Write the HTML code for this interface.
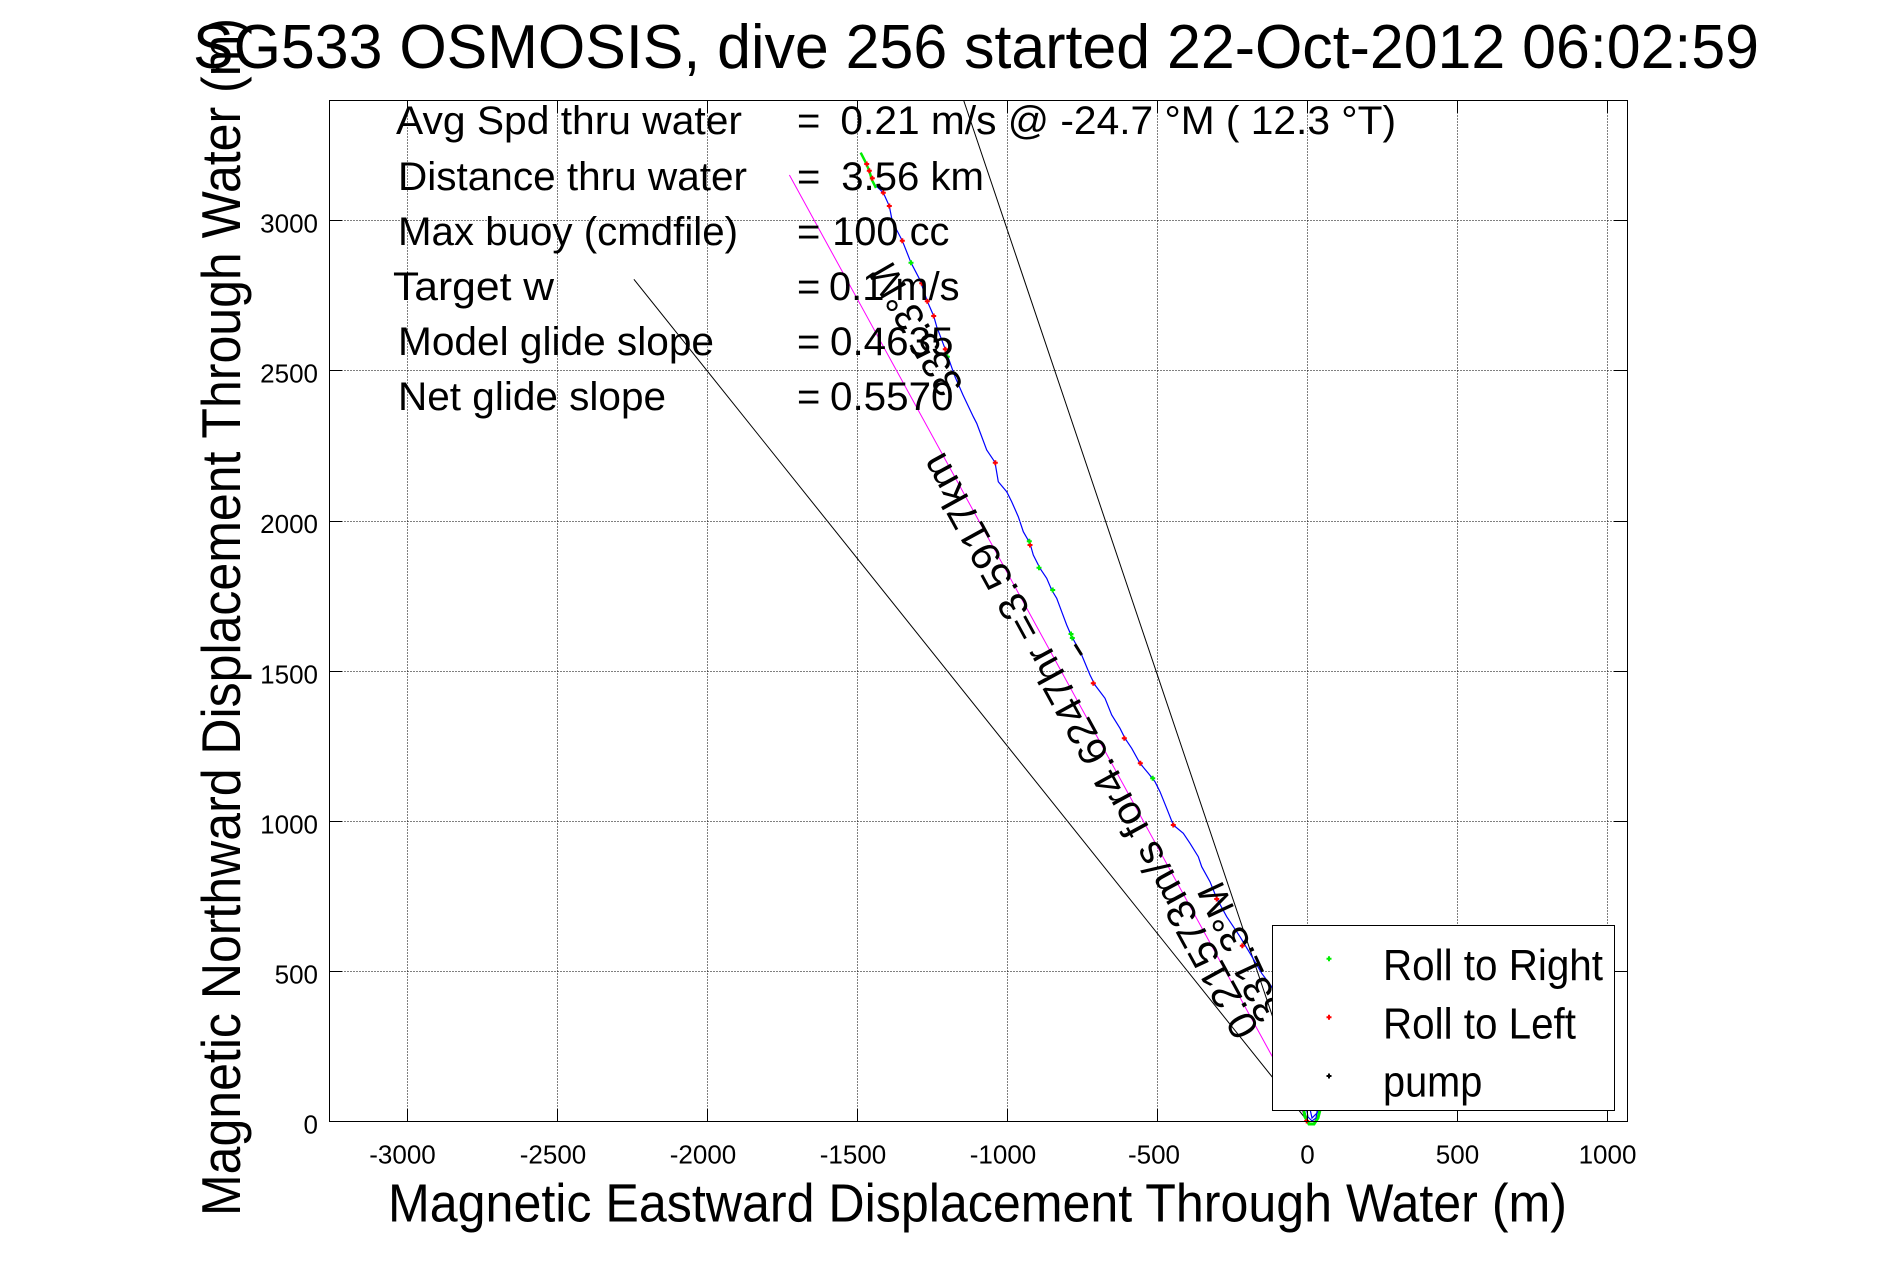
<!DOCTYPE html>
<html>
<head>
<meta charset="utf-8">
<style>
html,body{margin:0;padding:0;background:#fff;}
svg{display:block;}
text{font-family:"Liberation Sans",Arial,sans-serif;fill:#000;}
</style>
</head>
<body>
<svg width="1891" height="1262" viewBox="0 0 1891 1262" xmlns="http://www.w3.org/2000/svg">
<rect x="0" y="0" width="1891" height="1262" fill="#fff"/>

<!-- grid -->
<g stroke="#000" stroke-width="1" stroke-dasharray="1,2" fill="none">
  <line x1="407.5" y1="100.5" x2="407.5" y2="1121.5"/>
  <line x1="557.5" y1="100.5" x2="557.5" y2="1121.5"/>
  <line x1="707.5" y1="100.5" x2="707.5" y2="1121.5"/>
  <line x1="857.5" y1="100.5" x2="857.5" y2="1121.5"/>
  <line x1="1007.5" y1="100.5" x2="1007.5" y2="1121.5"/>
  <line x1="1157.5" y1="100.5" x2="1157.5" y2="1121.5"/>
  <line x1="1307.5" y1="100.5" x2="1307.5" y2="1121.5"/>
  <line x1="1457.5" y1="100.5" x2="1457.5" y2="1121.5"/>
  <line x1="1607.5" y1="100.5" x2="1607.5" y2="1121.5"/>
  <line x1="329.5" y1="971.5" x2="1627.5" y2="971.5"/>
  <line x1="329.5" y1="821.5" x2="1627.5" y2="821.5"/>
  <line x1="329.5" y1="671.5" x2="1627.5" y2="671.5"/>
  <line x1="329.5" y1="521.5" x2="1627.5" y2="521.5"/>
  <line x1="329.5" y1="370.5" x2="1627.5" y2="370.5"/>
  <line x1="329.5" y1="220.5" x2="1627.5" y2="220.5"/>
</g>

<!-- reference lines -->
<g fill="none" stroke-width="1">
  <line x1="963.7" y1="100.5" x2="1308" y2="1121.7" stroke="#000"/>
  <line x1="633.9" y1="279.3" x2="1308" y2="1121.7" stroke="#000"/>
  <line x1="789.4" y1="175" x2="1308" y2="1121.7" stroke="#ff00ff"/>
</g>

<!-- track -->
<polyline fill="none" stroke="#0000ff" stroke-width="1.2" points="860.7,152.7 866,163 870,172 873.3,183.3 883.3,192.7 889.3,206 891.7,218.3 896.7,230 902.3,240.7 911,262.7 920,280 927.3,301.3 933.7,316 936.7,326.7 945.3,349.3 955,376.7 963,395 973.3,416.7 976.7,423.3 986.7,450 995,462.3 998.3,481.7 1006.7,491.7 1011.7,501.7 1018.3,516.7 1023.3,531.7 1030,543.3 1033.3,555 1040,568.3 1046.7,578.3 1051.7,590 1056.7,598.3 1061.7,611.7 1066.7,625 1071,635 1081.7,655 1090,675 1095,685 1105,698.3 1111.7,715 1120,728.3 1125,738.3 1131.7,748.3 1140,763.3 1148.3,773.3 1155,781.7 1160,791.7 1166.7,808.3 1173.3,825 1183.3,833.3 1190,843.3 1198.3,856.7 1201.7,866.7 1210,881.7 1216.7,898.3 1226.7,916.7 1240,936.7 1250,953.3 1261.7,973.3 1271.7,986.7 1285,1010 1300,1060 1308,1100 1312,1118 1318,1112 1320,1104"/>
<polyline fill="none" stroke="#00ee00" stroke-width="2.5" points="860.7,152.7 865,161 869,170 872,180 876,188"/>
<polyline fill="none" stroke="#00ee00" stroke-width="3" points="1303,1106 1305,1117 1309,1124 1314,1124 1318,1118 1321,1106"/>
<polyline fill="none" stroke="#0000ff" stroke-width="1.2" points="1306,1106 1308,1117 1312,1121 1316,1118 1318,1106"/>
<line x1="1075" y1="644.3" x2="1081.7" y2="655" stroke="#000" stroke-width="3"/>

<!-- red markers -->
<g stroke="#ff0000" stroke-width="2" fill="none">
  <path d="M864.2 164h5M866.7 161.5v5"/>
  <path d="M866.8 170.7h5M869.3 168.2v5"/>
  <path d="M869.8 178.3h5M872.3 175.8v5"/>
  <path d="M880.8 192.7h5M883.3 190.2v5"/>
  <path d="M886.8 206h5M889.3 203.5v5"/>
  <path d="M899.8 240.7h5M902.3 238.2v5"/>
  <path d="M919.2 283.3h5M921.7 280.8v5"/>
  <path d="M924.8 301.3h5M927.3 298.8v5"/>
  <path d="M931.2 316h5M933.7 313.5v5"/>
  <path d="M942.8 349.3h5M945.3 346.8v5"/>
  <path d="M992.8 462.7h5M995.3 460.2v5"/>
  <path d="M1027.5 545h5M1030 542.5v5"/>
  <path d="M1090.8 683.3h5M1093.3 680.8v5"/>
  <path d="M1121.8 738.3h5M1124.3 735.8v5"/>
  <path d="M1137.8 763.3h5M1140.3 760.8v5"/>
  <path d="M1170.8 825h5M1173.3 822.5v5"/>
  <path d="M1214.2 899h5M1216.7 896.5v5"/>
  <path d="M1239.8 945.7h5M1242.3 943.2v5"/>
  <path d="M1304.2 1121h5M1306.7 1118.5v5"/>
</g>
<!-- green markers -->
<g stroke="#00ee00" stroke-width="2" fill="none">
  <path d="M908.5 262.7h5M911 260.2v5"/>
  <path d="M944.8 356.7h5M947.3 354.2v5"/>
  <path d="M1026.8 541.3h5M1029.3 538.8v5"/>
  <path d="M1036.5 567.7h5M1039 565.2v5"/>
  <path d="M1050.2 590h5M1052.7 587.5v5"/>
  <path d="M1068.5 634h5M1071 631.5v5"/>
  <path d="M1069.8 638h5M1072.3 635.5v5"/>
  <path d="M1150.2 778.3h5M1152.7 775.8v5"/>
</g>

<!-- text block -->
<g font-size="40">
  <text x="396" y="134" textLength="346" lengthAdjust="spacingAndGlyphs">Avg Spd thru water</text>
  <text x="398" y="190" textLength="349" lengthAdjust="spacingAndGlyphs">Distance thru water</text>
  <text x="398" y="245" textLength="340" lengthAdjust="spacingAndGlyphs">Max buoy (cmdfile)</text>
  <text x="393" y="300" textLength="161" lengthAdjust="spacingAndGlyphs">Target w</text>
  <text x="398" y="355" textLength="316" lengthAdjust="spacingAndGlyphs">Model glide slope</text>
  <text x="398" y="410" textLength="268" lengthAdjust="spacingAndGlyphs">Net glide slope</text>

  <text x="797" y="134">=</text>
  <text x="797" y="190">=</text>
  <text x="797" y="245">=</text>
  <text x="797" y="300">=</text>
  <text x="797" y="355">=</text>
  <text x="797" y="410">=</text>

  <text x="840.4" y="134" textLength="555.6" lengthAdjust="spacingAndGlyphs">0.21 m/s @ -24.7 °M ( 12.3 °T)</text>
  <text x="841.2" y="190" textLength="142.8" lengthAdjust="spacingAndGlyphs">3.56 km</text>
  <text x="832.2" y="245" textLength="117.2" lengthAdjust="spacingAndGlyphs">100 cc</text>
  <text x="829" y="300" textLength="130.6" lengthAdjust="spacingAndGlyphs">0.1 m/s</text>
  <text x="830" y="355" textLength="123.5" lengthAdjust="spacingAndGlyphs">0.4635</text>
  <text x="830" y="410" textLength="123.5" lengthAdjust="spacingAndGlyphs">0.5570</text>
</g>

<!-- rotated annotations -->
<text font-size="40" transform="translate(1260,1029) rotate(241.3)" textLength="660" lengthAdjust="spacingAndGlyphs">0.21573m/s for4.6247hr =3.5917km</text>
<text font-size="40" transform="translate(964.3,385.8) rotate(240)" textLength="146" lengthAdjust="spacingAndGlyphs">335.3°M</text>
<text font-size="40" transform="translate(1284,1014) rotate(245)" textLength="149" lengthAdjust="spacingAndGlyphs">331.3°M</text>

<!-- axes box and ticks -->
<g stroke="#000" stroke-width="1" fill="none">
  <rect x="329.5" y="100.5" width="1298" height="1021"/>
  <path d="M407.5 1121.5v-13M557.5 1121.5v-13M707.5 1121.5v-13M857.5 1121.5v-13M1007.5 1121.5v-13M1157.5 1121.5v-13M1307.5 1121.5v-13M1457.5 1121.5v-13M1607.5 1121.5v-13"/>
  <path d="M407.5 100.5v13M557.5 100.5v13M707.5 100.5v13M857.5 100.5v13M1007.5 100.5v13M1157.5 100.5v13M1307.5 100.5v13M1457.5 100.5v13M1607.5 100.5v13"/>
  <path d="M329.5 1121.5h13M329.5 971.5h13M329.5 821.5h13M329.5 671.5h13M329.5 521.5h13M329.5 370.5h13M329.5 220.5h13"/>
  <path d="M1627.5 1121.5h-13M1627.5 971.5h-13M1627.5 821.5h-13M1627.5 671.5h-13M1627.5 521.5h-13M1627.5 370.5h-13M1627.5 220.5h-13"/>
</g>

<!-- tick labels -->
<g font-size="26" text-anchor="end">
  <text x="318" y="1133.5">0</text>
  <text x="318" y="983.5">500</text>
  <text x="318" y="833.5">1000</text>
  <text x="318" y="683.5">1500</text>
  <text x="318" y="533">2000</text>
  <text x="318" y="382.5">2500</text>
  <text x="318" y="232.5">3000</text>
</g>
<g font-size="26" text-anchor="middle">
  <text x="402.5" y="1163.5">-3000</text>
  <text x="553" y="1163.5">-2500</text>
  <text x="703" y="1163.5">-2000</text>
  <text x="853" y="1163.5">-1500</text>
  <text x="1003" y="1163.5">-1000</text>
  <text x="1154" y="1163.5">-500</text>
  <text x="1307.5" y="1163.5">0</text>
  <text x="1457.5" y="1163.5">500</text>
  <text x="1607.5" y="1163.5">1000</text>
</g>

<!-- axis labels and title -->
<text font-size="54" text-anchor="middle" x="977.5" y="1221.7" textLength="1179" lengthAdjust="spacingAndGlyphs">Magnetic Eastward Displacement Through Water (m)</text>
<text font-size="55" text-anchor="middle" transform="translate(240,617) rotate(-90)" textLength="1198" lengthAdjust="spacingAndGlyphs">Magnetic Northward Displacement Through Water (m)</text>
<text font-size="62" x="193" y="68" textLength="1566" lengthAdjust="spacingAndGlyphs">SG533 OSMOSIS, dive 256 started 22-Oct-2012 06:02:59</text>

<!-- legend -->
<rect x="1272.5" y="925.5" width="342" height="185" fill="#fff" stroke="#000" stroke-width="1"/>
<g stroke-width="2" fill="none">
  <path d="M1326.5 958.7h5M1329 956.2v5" stroke="#00ee00"/>
  <path d="M1326.5 1017.3h5M1329 1014.8v5" stroke="#ff0000"/>
  <path d="M1326.5 1076h5M1329 1073.5v5" stroke="#000"/>
</g>
<g font-size="44">
  <text x="1383" y="980" textLength="220" lengthAdjust="spacingAndGlyphs">Roll to Right</text>
  <text x="1383" y="1038.3" textLength="193" lengthAdjust="spacingAndGlyphs">Roll to Left</text>
  <text x="1383" y="1096.7" textLength="99.3" lengthAdjust="spacingAndGlyphs">pump</text>
</g>
</svg>
</body>
</html>
